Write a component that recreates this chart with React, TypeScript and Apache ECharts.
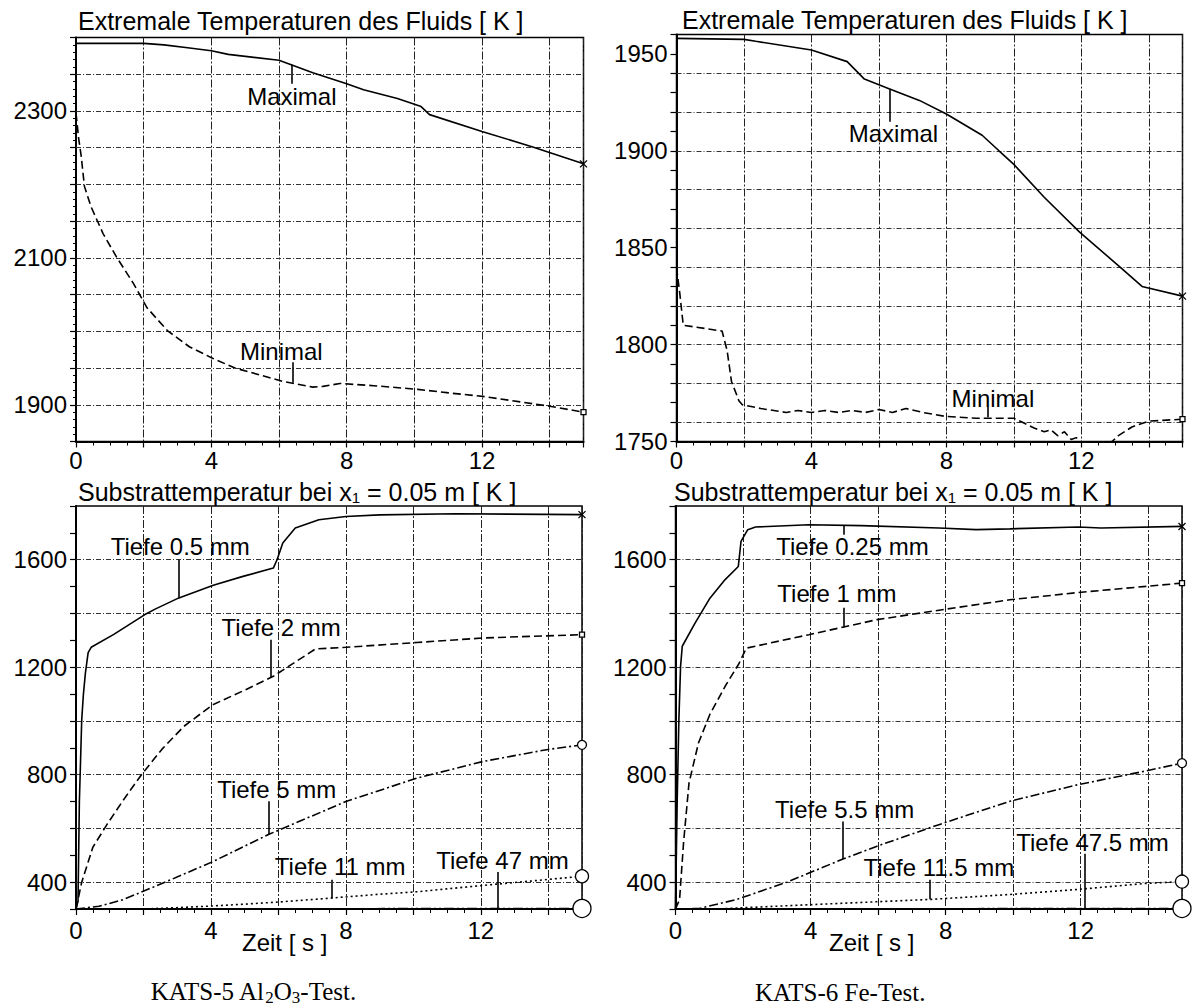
import React, { useEffect, useRef } from 'react';
import * as echarts from 'echarts';

const FONT = '"Liberation Sans", Arial, Helvetica, sans-serif';
const SERIF = '"Liberation Serif", "Times New Roman", serif';
const CROSS = 'path://M0,0L10,10M10,0L0,10';

// ---- tick / grid values ----
const xLabelValues = [0, 4, 8, 12];
const tlYLabels = [1900, 2100, 2300];
const trYLabels = [1750, 1800, 1850, 1900, 1950];
const subYLabels = [400, 800, 1200, 1600];
const tlGridY = [1900, 1950, 2000, 2050, 2100, 2150, 2200, 2250, 2300, 2350];
const trGridY = [1760, 1780, 1800, 1820, 1840, 1860, 1880, 1900, 1920, 1940];
const subGridY = [400, 600, 800, 1000, 1200, 1400, 1600];

// ---- KATS-5 fluid extremes [t (s), T (K)] ----
const tlMaximal = [[0, 2392], [2, 2392], [2.6, 2390], [3.3, 2386], [4, 2382], [4.5, 2377], [6, 2369], [6.3, 2364], [7, 2352], [8, 2337], [8.5, 2329], [9.5, 2317], [10.2, 2306], [10.45, 2295], [12, 2272], [13.5, 2251], [15, 2228]];
const tlMinimal = [[0, 2297], [0.08, 2262], [0.15, 2240], [0.25, 2197], [0.45, 2169], [0.8, 2133], [1.2, 2101], [1.7, 2065], [2.1, 2032], [2.7, 2001], [3.35, 1979], [4.05, 1963], [4.7, 1950], [6.1, 1932], [7.0, 1924], [7.3, 1925], [7.8, 1929], [8.8, 1926], [10.1, 1921], [11.05, 1916], [12.1, 1911], [14.0, 1898], [15, 1890]];

// ---- KATS-6 fluid extremes ----
const trMaximal = [[0, 1958], [2, 1957.5], [2.35, 1956.5], [4, 1952], [5.06, 1946], [5.57, 1937], [6.3, 1932], [7.2, 1926], [8, 1919], [9.06, 1908], [9.56, 1900], [10, 1893], [10.9, 1876], [11.95, 1858], [13.15, 1840], [13.8, 1830], [15, 1825]];
const trMinimal = [[0, 1840], [0.1, 1826], [0.2, 1810], [1.35, 1807], [1.5, 1797], [1.63, 1781], [1.85, 1771], [1.95, 1769], [2.5, 1767], [3.25, 1765], [3.6, 1766], [4, 1765], [4.4, 1766], [4.8, 1765], [5.2, 1766], [5.6, 1765], [6.0, 1766.5], [6.4, 1765], [6.8, 1767], [7.3, 1765], [7.95, 1763], [8.9, 1762], [10, 1762], [10.3, 1759.5], [10.6, 1757], [10.9, 1755], [11.1, 1756], [11.3, 1753], [11.5, 1755], [11.7, 1751], [11.85, 1752], [12.0, 1749], [12.4, 1744], [12.85, 1749], [13.1, 1753], [13.5, 1757.5], [14.0, 1760.5], [15, 1761.5]];

// ---- KATS-5 substrate temperatures ----
const blDepth05 = [[0, 300], [0.06, 330], [0.1, 700], [0.17, 1005], [0.22, 1100], [0.28, 1180], [0.36, 1254], [0.45, 1274], [1.12, 1322], [2.03, 1395], [2.36, 1417], [3.05, 1458], [4.07, 1505], [4.95, 1538], [5.85, 1569], [5.96, 1600], [6.13, 1662], [6.5, 1718], [7.2, 1749], [8, 1761], [9, 1767], [11.25, 1771], [15, 1768]];
const blDepth2 = [[0, 300], [0.17, 400], [0.5, 530], [0.92, 615], [1.4, 705], [1.94, 800], [2.55, 895], [3.2, 980], [4.05, 1060], [5.06, 1118], [5.85, 1166], [6.3, 1203], [7.1, 1268], [8, 1274], [10.1, 1292], [12.1, 1309], [15, 1321]];
const blDepth5 = [[0, 300], [0.68, 310], [1.4, 335], [2.7, 403], [4.05, 476], [5.72, 578], [8, 700], [10.1, 787], [12.06, 849], [13.95, 893], [15, 911]];
const blDepth11 = [[0, 300], [2, 300], [3, 305], [4, 311], [5, 318], [6, 326], [7.6, 341], [9, 355], [10.1, 364], [12, 387], [14, 410], [15, 422]];
const blDepth47 = [[0, 300], [15, 302]];

// ---- KATS-6 substrate temperatures ----
const brDepth025 = [[0, 300], [0.05, 700], [0.1, 1005], [0.15, 1203], [0.2, 1278], [0.57, 1362], [1.02, 1457], [1.47, 1526], [1.86, 1575], [1.94, 1668], [2.14, 1712], [2.37, 1722], [3.95, 1730], [5.5, 1727], [7.8, 1718], [8.9, 1712], [9.9, 1715], [11.93, 1722], [12.6, 1718], [15, 1724]];
const brDepth1 = [[0, 300], [0.12, 335], [0.24, 549], [0.4, 769], [0.68, 918], [1.02, 1025], [1.47, 1129], [1.86, 1209], [2.1, 1271], [3.95, 1321], [5.97, 1377], [7.9, 1414], [9.9, 1451], [11.93, 1478], [15, 1513]];
const brDepth55 = [[0, 300], [0.7, 302], [1.8, 335], [3.3, 400], [4.96, 486], [5.97, 534], [7.8, 614], [9.9, 701], [11.93, 763], [13.9, 813], [15, 843]];
const brDepth115 = [[0, 300], [1.2, 300], [3.8, 315], [7.6, 336], [9.9, 354], [11.93, 373], [13.9, 395], [15, 402]];
const brDepth475 = [[0, 300], [15, 302]];

// ---- annotations: text centre and leader (t, T from, T to) ----
const tlNotes = [
  { text: 'Maximal', pos: [6.38, 2320], leader: [6.39, 2363, 2337] },
  { text: 'Minimal', pos: [6.07, 1972], leader: [6.4, 1958, 1930] },
];
const trNotes = [
  { text: 'Maximal', pos: [6.43, 1909], leader: [6.33, 1932, 1915] },
  { text: 'Minimal', pos: [9.38, 1772.4], leader: [9.22, 1768, 1762.5] },
];
const blNotes = [
  { text: 'Tiefe 0.5 mm', pos: [3.09, 1650], leader: [3.05, 1600, 1457] },
  { text: 'Tiefe 2 mm', pos: [6.08, 1346], leader: [5.78, 1302, 1163] },
  { text: 'Tiefe 5 mm', pos: [5.95, 744], leader: [5.72, 701, 578] },
  { text: 'Tiefe 11 mm', pos: [7.83, 459], leader: [7.58, 409, 340] },
  { text: 'Tiefe 47 mm', pos: [12.64, 480], leader: [12.5, 438, 300] },
];
const brNotes = [
  { text: 'Tiefe 0.25 mm', pos: [5.24, 1650], leader: [4.99, 1727, 1693] },
  { text: 'Tiefe 1 mm', pos: [4.78, 1474], leader: [4.99, 1421, 1348] },
  { text: 'Tiefe 5.5 mm', pos: [5.01, 670], leader: [4.96, 626, 486] },
  { text: 'Tiefe 11.5 mm', pos: [7.8, 453], leader: [7.52, 409, 336] },
  { text: 'Tiefe 47.5 mm', pos: [12.35, 546], leader: [12.13, 506, 300] },
];

const SOLID = 'solid';
const DASH = [8, 4];
const DASHDOT = [9, 3, 2, 3];
const DOT = [2, 3];
const DASHDOTDOT = [10, 3, 2, 3, 2, 3];

const panels = [
  {
    grid: { left: 76, top: 37.5, width: 507.5, height: 404 },
    yMin: 1850, yMax: 2400, yInterval: 50, yMinor: 5, yLabels: tlYLabels, gridY: tlGridY, xLabelMargin: 7,
    curves: [
      { data: tlMaximal, dash: SOLID, marker: CROSS, size: 7 },
      { data: tlMinimal, dash: DASH, marker: 'rect', size: 5 },
    ],
    notes: tlNotes,
  },
  {
    grid: { left: 676.5, top: 34.5, width: 506, height: 407 },
    yMin: 1750, yMax: 1960, yInterval: 10, yMinor: 0, yLabels: trYLabels, gridY: trGridY, xLabelMargin: 7,
    curves: [
      { data: trMaximal, dash: SOLID, marker: CROSS, size: 7 },
      { data: trMinimal, dash: DASH, marker: 'rect', size: 5 },
    ],
    notes: trNotes,
  },
  {
    grid: { left: 76, top: 506, width: 506, height: 403 },
    yMin: 300, yMax: 1800, yInterval: 100, yMinor: 0, yLabels: subYLabels, gridY: subGridY, xLabelMargin: 9,
    curves: [
      { data: blDepth05, dash: SOLID, marker: CROSS, size: 7 },
      { data: blDepth2, dash: DASH, marker: 'rect', size: 5 },
      { data: blDepth5, dash: DASHDOT, marker: 'circle', size: 9 },
      { data: blDepth11, dash: DOT, marker: 'circle', size: 13 },
      { data: blDepth47, dash: DASHDOTDOT, marker: 'circle', size: 18 },
    ],
    notes: blNotes,
  },
  {
    grid: { left: 675.5, top: 506, width: 506.5, height: 403 },
    yMin: 300, yMax: 1800, yInterval: 100, yMinor: 0, yLabels: subYLabels, gridY: subGridY, xLabelMargin: 9,
    curves: [
      { data: brDepth025, dash: SOLID, marker: CROSS, size: 7 },
      { data: brDepth1, dash: DASH, marker: 'rect', size: 5 },
      { data: brDepth55, dash: DASHDOT, marker: 'circle', size: 9 },
      { data: brDepth115, dash: DOT, marker: 'circle', size: 13 },
      { data: brDepth475, dash: DASHDOTDOT, marker: 'circle', size: 18 },
    ],
    notes: brNotes,
  },
];

function measureWidth(text: string, font: string): number {
  const ctx = document.createElement('canvas').getContext('2d');
  if (!ctx) return text.length * 10;
  ctx.font = font;
  return ctx.measureText(text).width;
}

// A line of text made of normal and subscript parts; gap = extra space before a part
function textRun(parts: { t: string; sub?: boolean; gap?: boolean }[], x0: number, y: number, size: number, family: string, subSize: number, drop: number) {
  const els: any[] = [];
  let x = x0;
  for (const p of parts) {
    const font = `${p.sub ? subSize : size}px ${family}`;
    if (p.gap) x += measureWidth(' ', `${size}px ${family}`);
    els.push({
      type: 'text', x, y: p.sub ? y + drop : y, silent: true, z: 10,
      style: { text: p.t, font, fill: '#000', textVerticalAlign: 'middle', verticalAlign: 'middle' },
    });
    x += measureWidth(p.t, font);
  }
  return els;
}

function buildOption() {
  const grid = panels.map((p) => ({ ...p.grid, show: true, borderColor: '#000', borderWidth: 1.5, backgroundColor: 'transparent', containLabel: false, outerBoundsMode: 'none' }));

  const xAxis = panels.map((p, i) => ({
    type: 'value', gridIndex: i, min: 0, max: 15, interval: 2,
    axisLine: { show: true, onZero: false, lineStyle: { color: '#000', width: 2 } },
    axisTick: { show: true, length: 6, lineStyle: { color: '#000', width: 1.2 } },
    minorTick: { show: true, splitNumber: 4, length: 4, lineStyle: { color: '#000', width: 1 } },
    axisLabel: {
      show: true, margin: p.xLabelMargin, fontSize: 24, fontFamily: FONT, color: '#000',
      formatter: (v: number) => (xLabelValues.includes(v) ? String(v) : ''),
    },
    splitLine: { show: true, lineStyle: { color: '#222', width: 1, type: [8, 2, 2, 2] } },
    minorSplitLine: { show: false },
  }));

  const yAxis = panels.map((p, i) => ({
    type: 'value', gridIndex: i, min: p.yMin, max: p.yMax, interval: p.yInterval,
    axisLine: { show: true, onZero: false, lineStyle: { color: '#000', width: 2 } },
    axisTick: { show: true, length: 6, lineStyle: { color: '#000', width: 1.2 } },
    minorTick: { show: p.yMinor > 0, splitNumber: p.yMinor || 5, length: 3, lineStyle: { color: '#000', width: 1 } },
    axisLabel: {
      show: true, margin: 9, fontSize: 24, fontFamily: FONT, color: '#000',
      formatter: (v: number) => (p.yLabels.includes(v) ? String(v) : ''),
    },
    splitLine: { show: false },
  }));

  const series: any[] = [];
  panels.forEach((p, i) => {
    p.curves.forEach((c, j) => {
      series.push({
        type: 'line', xAxisIndex: i, yAxisIndex: i, data: c.data, symbol: 'none', clip: true, silent: true, z: 3,
        lineStyle: { color: '#000', width: 1.6, type: c.dash },
        markLine: j === 0 ? {
          silent: true, symbol: ['none', 'none'], label: { show: false }, z: 1,
          lineStyle: { color: '#333', width: 1, type: [5, 2, 1, 2] },
          emphasis: { disabled: true },
          data: p.gridY.map((v) => ({ yAxis: v })),
        } : undefined,
      });
    });
    // end-of-curve markers
    series.push({
      type: 'scatter', xAxisIndex: i, yAxisIndex: i, clip: false, silent: true, z: 5,
      data: p.curves.map((c) => ({ value: c.data[c.data.length - 1], symbol: c.marker, symbolSize: c.size })),
      itemStyle: { color: '#fff', borderColor: '#000', borderWidth: 1.3, opacity: 1 },
    });
    // curve annotations with leader lines
    series.push({
      type: 'scatter', xAxisIndex: i, yAxisIndex: i, clip: false, silent: true, z: 6,
      symbolSize: 1, itemStyle: { color: 'transparent', opacity: 1 },
      data: p.notes.map((n) => ({ value: n.pos, name: n.text })),
      label: {
        show: true, position: 'inside', formatter: (q: any) => q.name,
        fontSize: 24, fontFamily: FONT, color: '#000', opacity: 1, align: 'center', verticalAlign: 'middle',
        textBorderWidth: 0, textBorderColor: 'transparent', textShadowBlur: 0,
      },
      markLine: {
        silent: true, symbol: ['none', 'none'], label: { show: false },
        lineStyle: { color: '#000', width: 1.6, type: 'solid', opacity: 1 },
        emphasis: { disabled: true },
        data: p.notes.map((n) => [{ coord: [n.leader[0], n.leader[1]] }, { coord: [n.leader[0], n.leader[2]] }]),
      },
    });
  });

  const title = 'Extremale Temperaturen des Fluids [ K ]';
  const graphic: any[] = [
    ...textRun([{ t: title }], 78, 20.8, 25, FONT, 15, 6),
    ...textRun([{ t: title }], 682, 19.8, 25, FONT, 15, 6),
    ...textRun([{ t: 'Substrattemperatur bei x' }, { t: '1', sub: true }, { t: '= 0.05 m [ K ]', gap: true }], 78, 491.7, 25, FONT, 15, 6),
    ...textRun([{ t: 'Substrattemperatur bei x' }, { t: '1', sub: true }, { t: '= 0.05 m [ K ]', gap: true }], 674, 491.7, 25, FONT, 15, 6),
    ...textRun([{ t: 'Zeit [ s ]' }], 242, 942, 24, FONT, 15, 6),
    ...textRun([{ t: 'Zeit [ s ]' }], 829, 942, 24, FONT, 15, 6),
    ...textRun([{ t: 'KATS-5 Al' }, { t: '2', sub: true }, { t: 'O' }, { t: '3', sub: true }, { t: '-Test.' }], 150.7, 991, 25, SERIF, 17, 6),
    ...textRun([{ t: 'KATS-6 Fe-Test.' }], 755, 992, 25, SERIF, 17, 6),
  ];

  return {
    animation: false,
    backgroundColor: '#fff',
    textStyle: { fontFamily: FONT },
    grid, xAxis, yAxis, series, graphic,
  };
}

export default function App() {
  const ref = useRef<HTMLDivElement>(null);
  useEffect(() => {
    document.body.style.margin = '0';
    const chart = echarts.init(ref.current as HTMLDivElement, null, { renderer: 'svg' });
    chart.setOption(buildOption() as any);
    return () => chart.dispose();
  }, []);
  return <div ref={ref} style={{ width: 1192, height: 1008, background: '#fff' }} />;
}
